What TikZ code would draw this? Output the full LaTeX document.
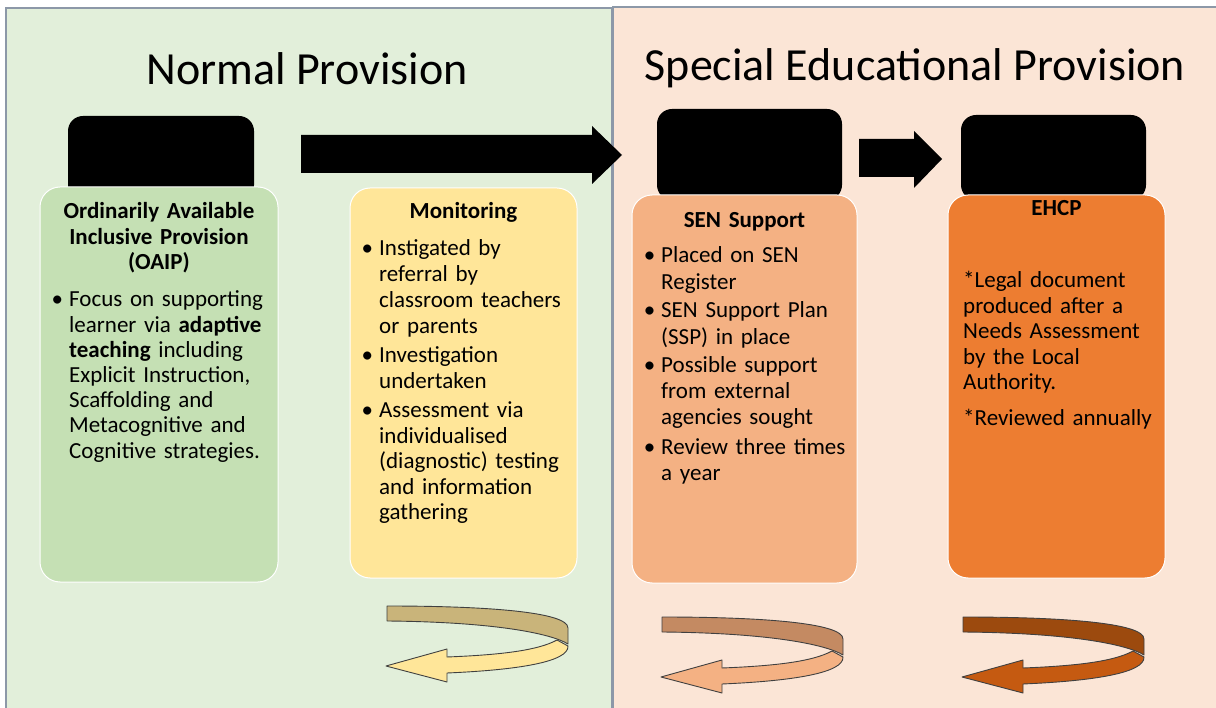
\documentclass[tikz,border=0pt]{standalone}
\usepackage{fontspec}
\setmainfont{Carlito}
\definecolor{leftbg}{HTML}{E2EFDA}
\definecolor{rightbg}{HTML}{FBE5D6}
\definecolor{panelgray}{HTML}{8C98A8}
\definecolor{greenbox}{HTML}{C5E0B4}
\definecolor{yellowbox}{HTML}{FFE699}
\definecolor{peachbox}{HTML}{F4B183}
\definecolor{orangebox}{HTML}{ED7D31}
\definecolor{tanback}{HTML}{C9B47A}
\definecolor{peachback}{HTML}{C48A62}
\definecolor{brownback}{HTML}{9C4A0E}
\definecolor{brownfront}{HTML}{C55A11}
\definecolor{outline}{HTML}{404040}
\newcommand\bul{\leavevmode\llap{\textbullet\hspace{6pt}}}
\newcommand\circarrow[4]{%
  \begin{scope}[shift={(#1,#2)}]
    \draw[ringline,fill=#4] (170,34) .. controls (150,45) and (110,49) .. (60,51)
      -- (60,43) -- (-1,60) -- (60,76) -- (60,67)
      .. controls (130,64) and (182,56) .. (181,40) -- cycle;
    \draw[ringline,fill=#3] (0,0) .. controls (100,0) and (181,6) .. (181,22)
      -- (181,38) .. controls (165,28) and (110,16) .. (0,15) -- cycle;
  \end{scope}}
\begin{document}
\begin{tikzpicture}[x=1pt,y=-1pt,
  panel/.style={draw=panelgray,line width=1.5pt},
  box/.style={rectangle,rounded corners=20pt,draw=white,line width=1pt,inner sep=0pt},
  tab/.style={rectangle,rounded corners=15pt,fill=black,inner sep=0pt},
  txt/.style={font=\fontsize{23}{25.5}\selectfont,inner sep=0pt,align=left,anchor=base west,text width=215pt},
  ttl/.style={font=\fontsize{23}{25.5}\selectfont\bfseries,inner sep=0pt,align=center,anchor=base,text width=230pt},
  big/.style={font=\fontsize{46}{50}\selectfont,inner sep=0pt,anchor=base},
  blockarrow/.style={fill=black},
  ringline/.style={draw=outline,line width=0.9pt,line join=round}]
\useasboundingbox (0,0) rectangle (1216,708);
\clip (0,0) rectangle (1216,708);
\fill[white] (0,0) rectangle (1216,708);
% panels
\draw[panel,fill=leftbg] (6,8) rectangle (612,730);
\draw[panel,fill=rightbg] (613,7) rectangle (1240,730);
% titles
\node[big] (normal) at (307,85) {Normal Provision};
\node[big] (special) at (915,81) {Special Educational Provision};
% block arrows
\fill[blockarrow] (301,135) -- (592,135) -- (592,126) -- (622,155) -- (592,184) -- (592,173) -- (301,173) -- cycle;
\fill[blockarrow] (859,139) -- (914,139) -- (914,131) -- (942,159) -- (914,188) -- (914,177) -- (859,177) -- cycle;
% tabs
\node[tab,minimum width=186pt,minimum height=84pt] (tab1) at (161,158) {};
\node[tab,minimum width=185pt,minimum height=91pt] (tab2) at (749.5,154.5) {};
\node[tab,minimum width=185pt,minimum height=85pt] (tab3) at (1053.5,157.5) {};
% boxes
\node[box,fill=greenbox,minimum width=238pt,minimum height=395pt] (box1) at (159,384.5) {};
\node[box,fill=yellowbox,minimum width=227pt,minimum height=390pt] (box2) at (463.5,383) {};
\node[box,fill=peachbox,minimum width=225pt,minimum height=388pt] (box3) at (744.5,389) {};
\node[box,fill=orangebox,minimum width=217pt,minimum height=383pt] (box4) at (1056.5,386.5) {};
% box 1 text
\node[ttl,font=\fontsize{23}{25.5}\selectfont\bfseries] (t1) at (159,219) {Ordinarily Available\\Inclusive Provision\\(OAIP)};
\node[txt,font=\fontsize{23}{25.2}\selectfont] (b1a) at (69,307) {\bul Focus on supporting\\learner via \textbf{adaptive}\\\textbf{teaching} including\\Explicit Instruction,\\Scaffolding and\\Metacognitive and\\Cognitive strategies.};
% box 2 text
\node[ttl] (t2) at (463.5,219) {Monitoring};
\node[txt,font=\fontsize{23}{25.7}\selectfont] (b2a) at (379,256) {\bul Instigated by\\referral by\\classroom teachers\\or parents};
\node[txt] (b2b) at (379,363) {\bul Investigation\\undertaken};
\node[txt,font=\fontsize{23}{25.5}\selectfont] (b2c) at (379,418) {\bul Assessment via\\individualised\\(diagnostic) testing\\and information\\gathering};
% box 3 text
\node[ttl] (t3) at (744.5,228) {SEN Support};
\node[txt,font=\fontsize{23}{26.8}\selectfont] (b3a) at (661,263) {\bul Placed on SEN\\Register};
\node[txt,font=\fontsize{23}{26.8}\selectfont] (b3b) at (661,318) {\bul SEN Support Plan\\(SSP) in place};
\node[txt,font=\fontsize{23}{26}\selectfont] (b3c) at (661,373) {\bul Possible support\\from external\\agencies sought};
\node[txt,font=\fontsize{23}{25.5}\selectfont] (b3d) at (661,455) {\bul Review three times\\a year};
% box 4 text
\node[ttl] (t4) at (1056.5,216) {EHCP};
\node[txt] (b4a) at (963,288) {*Legal document\\produced after a\\Needs Assessment\\by the Local\\Authority.};
\node[txt] (b4b) at (963,426) {*Reviewed annually};
% circular arrows
\circarrow{387}{606}{tanback}{yellowbox}
\circarrow{662}{617}{peachback}{peachbox}
\circarrow{963}{617}{brownback}{brownfront}
\end{tikzpicture}
\end{document}
